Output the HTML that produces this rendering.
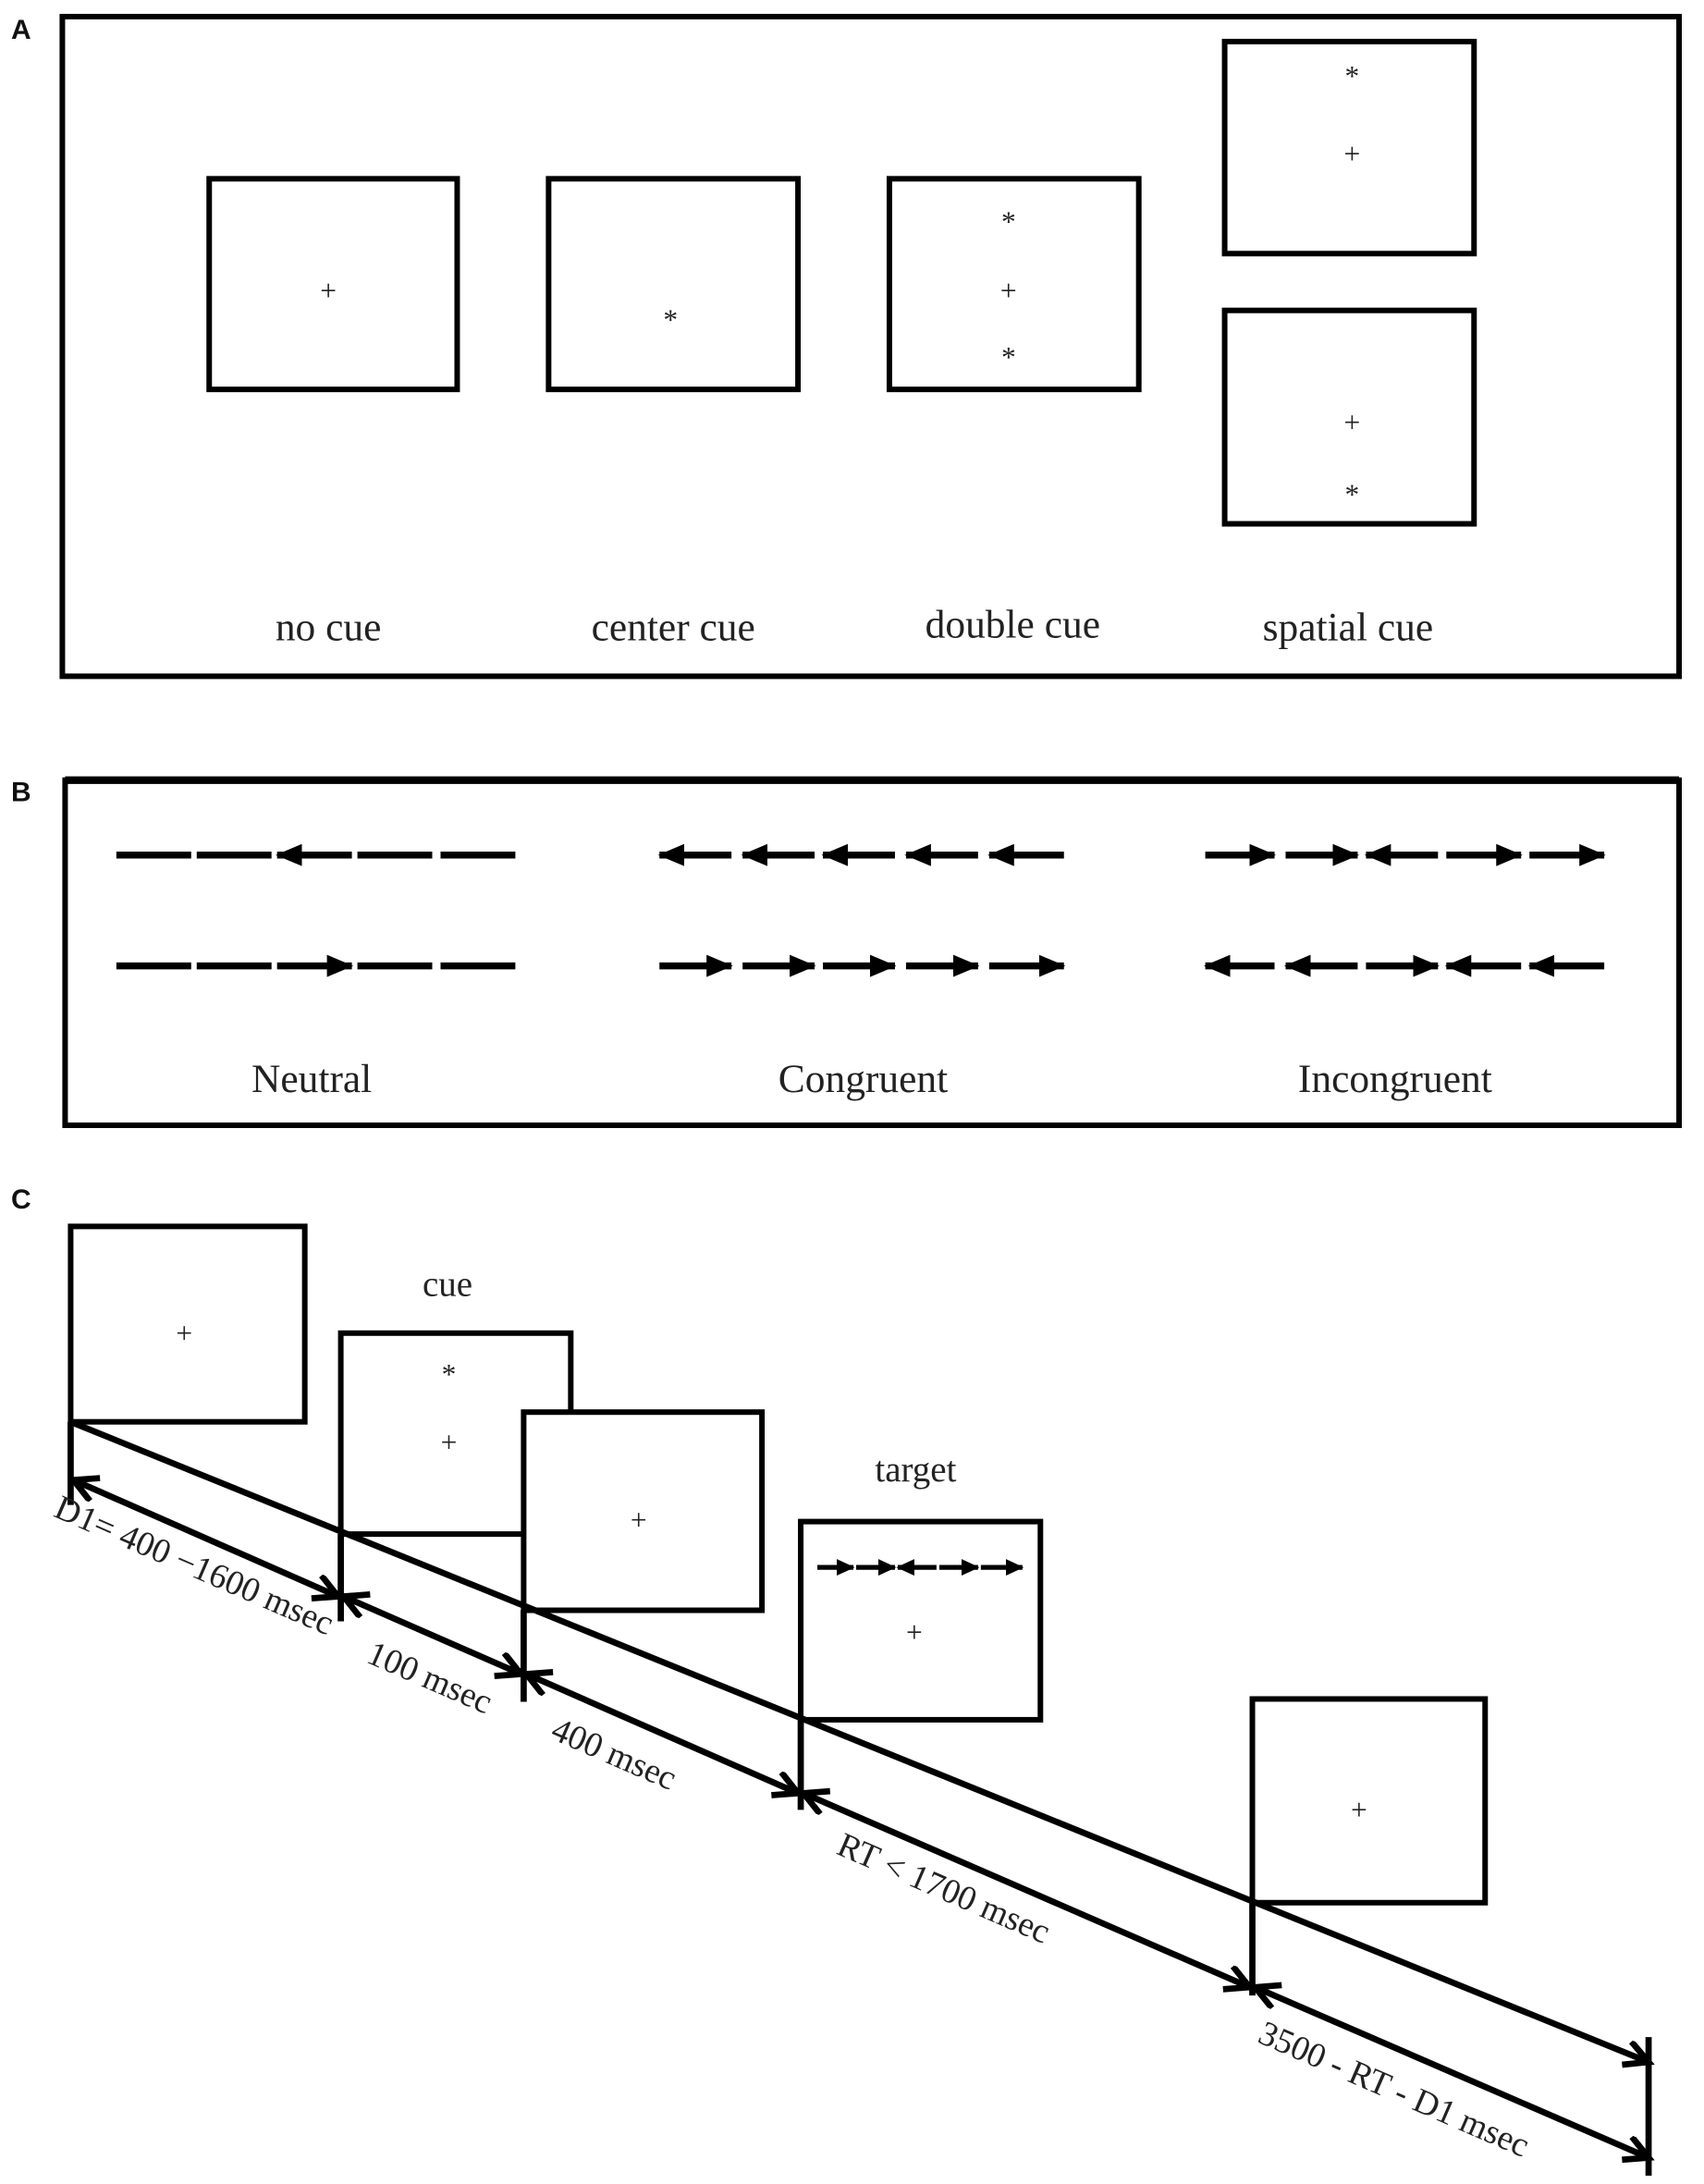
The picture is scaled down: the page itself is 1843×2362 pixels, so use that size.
<!DOCTYPE html>
<html><head><meta charset="utf-8"><style>
html,body{margin:0;padding:0;background:#fff}
svg{display:block}
text{font-family:"Liberation Serif",serif;fill:#222}
.lb{font-family:"Liberation Sans",sans-serif;font-weight:bold;font-size:20px;fill:#111}
</style></head><body>
<svg width="1843" height="2362" viewBox="0 0 1230 1576" preserveAspectRatio="none" xmlns="http://www.w3.org/2000/svg">
<defs>
<marker id="ah" markerUnits="userSpaceOnUse" markerWidth="22" markerHeight="18" refX="18" refY="8" orient="auto-start-reverse"><path d="M0,0 L19,8 L0,16 z" fill="#000"/></marker>
<marker id="sm" markerUnits="userSpaceOnUse" markerWidth="14" markerHeight="14" refX="12" refY="6" orient="auto-start-reverse"><path d="M0,0 L13,6 L0,12 z" fill="#000"/></marker>
<marker id="th" markerUnits="userSpaceOnUse" markerWidth="24" markerHeight="24" refX="19" refY="10" orient="auto-start-reverse"><path d="M2,1 L19,10 L2,19" fill="none" stroke="#000" stroke-width="4.5"/></marker>
</defs>
<g fill="none" stroke="#000" stroke-width="4">
<rect x="45" y="12" width="1167" height="476"/>
<rect x="151" y="129" width="179" height="152"/>
<rect x="396" y="129" width="180" height="152"/>
<rect x="642" y="129" width="180" height="152"/>
<rect x="884" y="30" width="180" height="153"/>
<rect x="884" y="224" width="180" height="154"/>
<rect x="47" y="563" width="1165" height="249"/>
<line x1="47" y1="563" x2="1212" y2="563" stroke-width="5.5"/>
</g>
<text class="lb" x="8" y="28">A</text>
<text class="lb" x="8" y="578">B</text>
<text class="lb" x="8" y="872">C</text>
<g font-size="21" text-anchor="middle">
<text x="237" y="217">+</text>
<text x="484" y="238">*</text>
<text x="728" y="167">*</text><text x="728" y="217">+</text><text x="728" y="265">*</text>
<text x="976" y="62">*</text><text x="976" y="118">+</text>
<text x="976" y="312">+</text><text x="976" y="364">*</text>
</g>
<g font-size="29" text-anchor="middle">
<text x="237" y="462">no cue</text>
<text x="486" y="462">center cue</text>
<text x="731" y="460">double cue</text>
<text x="973" y="462">spatial cue</text>
<text x="225" y="788">Neutral</text>
<text x="623" y="788">Congruent</text>
<text x="1007" y="788">Incongruent</text>
</g>
<g stroke="#000" stroke-width="5">
<line x1="84" y1="617" x2="138" y2="617"/><line x1="142" y1="617" x2="196" y2="617"/>
<line x1="200" y1="617" x2="254" y2="617" marker-start="url(#ah)"/>
<line x1="258" y1="617" x2="312" y2="617"/><line x1="318" y1="617" x2="372" y2="617"/>
<line x1="84" y1="697" x2="138" y2="697"/><line x1="142" y1="697" x2="196" y2="697"/>
<line x1="200" y1="697" x2="254" y2="697" marker-end="url(#ah)"/>
<line x1="258" y1="697" x2="312" y2="697"/><line x1="318" y1="697" x2="372" y2="697"/>
<line x1="476" y1="617" x2="528" y2="617" marker-start="url(#ah)"/>
<line x1="536" y1="617" x2="588" y2="617" marker-start="url(#ah)"/>
<line x1="594" y1="617" x2="646" y2="617" marker-start="url(#ah)"/>
<line x1="654" y1="617" x2="706" y2="617" marker-start="url(#ah)"/>
<line x1="714" y1="617" x2="768" y2="617" marker-start="url(#ah)"/>
<line x1="476" y1="697" x2="528" y2="697" marker-end="url(#ah)"/>
<line x1="536" y1="697" x2="588" y2="697" marker-end="url(#ah)"/>
<line x1="594" y1="697" x2="646" y2="697" marker-end="url(#ah)"/>
<line x1="654" y1="697" x2="706" y2="697" marker-end="url(#ah)"/>
<line x1="714" y1="697" x2="768" y2="697" marker-end="url(#ah)"/>
<line x1="870" y1="617" x2="920" y2="617" marker-end="url(#ah)"/>
<line x1="928" y1="617" x2="980" y2="617" marker-end="url(#ah)"/>
<line x1="986" y1="617" x2="1038" y2="617" marker-start="url(#ah)"/>
<line x1="1044" y1="617" x2="1098" y2="617" marker-end="url(#ah)"/>
<line x1="1104" y1="617" x2="1158" y2="617" marker-end="url(#ah)"/>
<line x1="870" y1="697" x2="920" y2="697" marker-start="url(#ah)"/>
<line x1="928" y1="697" x2="980" y2="697" marker-start="url(#ah)"/>
<line x1="986" y1="697" x2="1038" y2="697" marker-end="url(#ah)"/>
<line x1="1044" y1="697" x2="1098" y2="697" marker-start="url(#ah)"/>
<line x1="1104" y1="697" x2="1158" y2="697" marker-start="url(#ah)"/>
</g>
<g fill="#fff" stroke="#000" stroke-width="4">
<rect x="51" y="885" width="169" height="141"/>
<rect x="246" y="962" width="166" height="145"/>
<rect x="378" y="1019" width="172" height="143"/>
<rect x="578" y="1098" width="173" height="143"/>
<rect x="904" y="1226" width="168" height="147"/>
</g>
<g font-size="21" text-anchor="middle">
<text x="133" y="969">+</text>
<text x="324" y="999">*</text><text x="324" y="1048">+</text>
<text x="461" y="1104">+</text>
<text x="660" y="1185">+</text>
<text x="981" y="1313">+</text>
</g>
<g font-size="26" text-anchor="middle">
<text x="323" y="935">cue</text>
<text x="661" y="1069">target</text>
</g>
<g stroke="#000" stroke-width="3.5">
<line x1="590" y1="1131" x2="616" y2="1131" marker-end="url(#sm)"/>
<line x1="618" y1="1131" x2="646" y2="1131" marker-end="url(#sm)"/>
<line x1="648" y1="1131" x2="676" y2="1131" marker-start="url(#sm)"/>
<line x1="678" y1="1131" x2="706" y2="1131" marker-end="url(#sm)"/>
<line x1="708" y1="1131" x2="738" y2="1131" marker-end="url(#sm)"/>
</g>
<g stroke="#000" stroke-width="4.5" fill="none">
<line x1="51" y1="1026" x2="1190" y2="1488" marker-end="url(#th)"/>
<line x1="1190" y1="1470" x2="1190" y2="1570"/>
<line x1="51" y1="1026" x2="51" y2="1086"/>
<line x1="246" y1="1107" x2="246" y2="1170"/>
<line x1="378" y1="1162" x2="378" y2="1228"/>
<line x1="578" y1="1241" x2="578" y2="1306"/>
<line x1="904" y1="1373" x2="904" y2="1440"/>
<line x1="53" y1="1068" x2="244" y2="1152" marker-start="url(#th)" marker-end="url(#th)"/>
<line x1="248" y1="1152" x2="376" y2="1208" marker-start="url(#th)" marker-end="url(#th)"/>
<line x1="380" y1="1208" x2="576" y2="1294" marker-start="url(#th)" marker-end="url(#th)"/>
<line x1="580" y1="1294" x2="902" y2="1434" marker-start="url(#th)" marker-end="url(#th)"/>
<line x1="906" y1="1434" x2="1190" y2="1557" marker-start="url(#th)" marker-end="url(#th)"/>
</g>
<g font-size="25" text-anchor="middle">
<text transform="translate(137,1137) rotate(23.5)">D1= 400 −1600 msec</text>
<text transform="translate(307,1218) rotate(23.5)">100 msec</text>
<text transform="translate(440,1273) rotate(23.5)">400 msec</text>
<text transform="translate(678,1370) rotate(23.5)">RT &lt; 1700 msec</text>
<text transform="translate(1003,1515) rotate(23.5)">3500 - RT - D1 msec</text>
</g>
</svg>
</body></html>
